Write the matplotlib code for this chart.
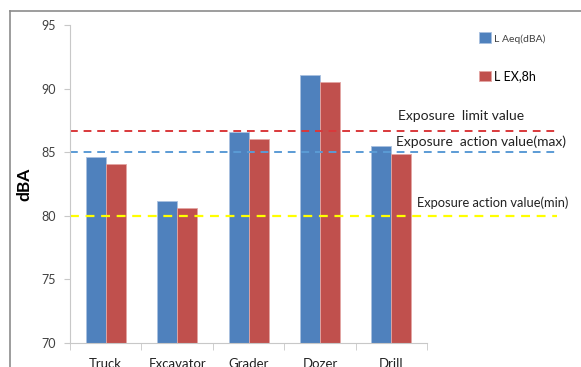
import matplotlib.pyplot as plt
import numpy as np
from matplotlib.lines import Line2D

plt.rcParams['font.family'] = ['Lato', 'DejaVu Sans']

machines = ["Truck", "Excavator", "Grader", "Dozer", "Drill"]
laeq = [84.65, 81.2, 86.55, 91.05, 85.45]
lex8h = [84.05, 80.65, 86.0, 90.55, 84.85]

limit_value = 86.7
action_max = 85.0
action_min = 80.0

blue = "#4F81BD"
red = "#C0504D"

fig = plt.figure(figsize=(5.81, 3.67), dpi=100)
ax = fig.add_axes([70 / 581, 24 / 367, 487 / 581, 318 / 367])

x = np.arange(len(machines))
w = 0.28
b1 = ax.bar(x - w / 2, np.array(laeq) - 70, w, bottom=70, color=blue,
            edgecolor="#a9c1e0", linewidth=0.6, label="L Aeq(dBA)")
b2 = ax.bar(x + w / 2, np.array(lex8h) - 70, w, bottom=70, color=red,
            edgecolor="#e3a5a3", linewidth=0.6, label="L EX,8h")

# reference lines extend past the category axis
xr = [-0.5, 6.32]
ax.plot(xr, [limit_value] * 2, color="#d9393b", lw=1.4, ls=(0, (4, 3)))
ax.plot(xr, [action_max] * 2, color="#5b9bd5", lw=1.4, ls=(0, (4, 3)))
ax.plot(xr, [action_min] * 2, color="#ffff00", lw=1.6, ls=(0, (4, 3)))

ax.text(4.09, 87.85, "Exposure  limit value", fontsize=10,
        color="#222222", va="center")
ax.text(4.07, 85.8, "Exposure  action value(max)", fontsize=10,
        color="#222222", va="center")
ax.text(4.36, 81.0, "Exposure action value(min)", fontsize=9.3,
        color="#222222", va="center")

ax.set_xlim(-0.5, 6.32)
ax.set_ylim(70, 95)
ax.set_yticks(range(70, 96, 5))
ax.set_xticks(x)
ax.set_xticklabels(machines)
ax.set_xticks(np.arange(-0.5, 5, 1), minor=True)
ax.tick_params(axis="x", which="major", length=0, pad=11, labelsize=9.5,
               labelcolor="#222222")
ax.tick_params(axis="x", which="minor", length=5, color="#c8c8c8",
               direction="out")
ax.tick_params(axis="y", length=4, color="#c8c8c8", labelsize=9,
               labelcolor="#404040", pad=6)

for s in ["top", "right"]:
    ax.spines[s].set_visible(False)
ax.spines["bottom"].set_bounds(-0.5, 4.5)
ax.spines["left"].set_color("#c8c8c8")
ax.spines["bottom"].set_color("#c8c8c8")

ax.set_ylabel("dBA", fontsize=12.5, fontweight="bold", labelpad=0)
ax.yaxis.set_label_coords(-(70 - 32) / 487, 0.5)

leg = ax.legend(loc="upper left", bbox_to_anchor=(398 / 487, 1.012),
                frameon=False, handlelength=0.9, handleheight=0.9,
                handletextpad=0.3, labelspacing=2.1, fontsize=9)
leg.get_texts()[0].set_fontsize(7.5)
leg.get_texts()[0].set_color("#404040")

# outer chart frame
fig.add_artist(Line2D([10 / 581, 1], [1 - 11 / 367] * 2, color="#8c8c8c",
                      lw=1.2, transform=fig.transFigure))
fig.add_artist(Line2D([10 / 581] * 2, [0, 1 - 11 / 367], color="#8c8c8c",
                      lw=1.2, transform=fig.transFigure))

fig.savefig("out.png", dpi=100)
